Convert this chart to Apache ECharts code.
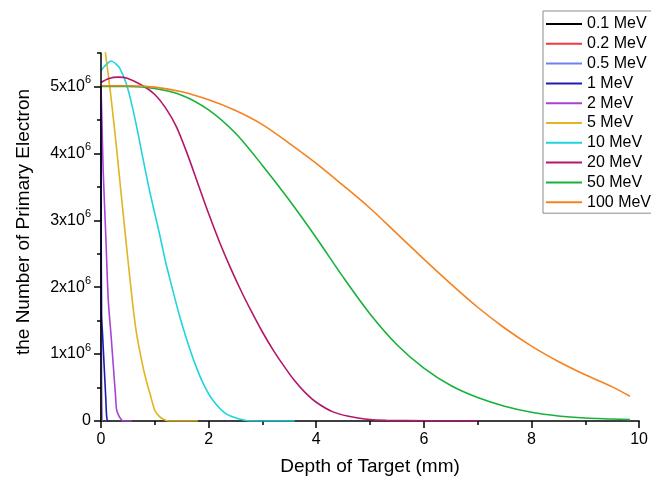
<!DOCTYPE html>
<html>
<head>
<meta charset="utf-8">
<script src="https://cdn.jsdelivr.net/npm/echarts@6/dist/echarts.min.js"></script>
<style>
  html, body { margin: 0; padding: 0; background: #fff; }
  #chart { width: 651px; height: 481px; }
</style>
</head>
<body>
<div id="chart"></div>
<script>
// Primary electron count versus target depth for several beam energies
const energies = ['0.1 MeV', '0.2 MeV', '0.5 MeV', '1 MeV', '2 MeV', '5 MeV', '10 MeV', '20 MeV', '50 MeV', '100 MeV'];
const lineColors = ['#000000', '#f03c3c', '#6f80f2', '#1c1cb4', '#a942d6', '#e2b41e', '#1fd5dd', '#b3176a', '#17b23a', '#f5821f'];

// depth in mm, count of primary electrons
const depth01 = [0, 0.002, 0.005];
const count01 = [5.0e6, 1.0e6, 0];
const depth02 = [0, 0.004, 0.01];
const count02 = [5.0e6, 1.5e6, 0];
const depth05 = [0, 0.004, 0.01, 0.02];
const count05 = [5.0e6, 2.5e6, 0.4e6, 0];
const depth1 = [0, 0.004, 0.01, 0.03, 0.06, 0.09, 0.105, 0.125, 0.17];
const count1 = [5.0e6, 3.0e6, 1.6e6, 1.28e6, 0.8e6, 0.32e6, 0.07e6, 0, 0];
const depth2 = [0, 0.02, 0.04, 0.09, 0.135, 0.185, 0.23, 0.27, 0.29, 0.33, 0.38, 0.42, 0.57];
const count2 = [5.0e6, 4.4e6, 3.75e6, 2.75e6, 1.81e6, 1.3e6, 0.81e6, 0.38e6, 0.17e6, 0.08e6, 0.02e6, 0, 0];
const depth5 = [0.05, 0.17, 0.26, 0.33, 0.45, 0.58, 0.66, 0.78, 0.86, 0.91, 0.96, 1.0, 1.07, 1.15, 1.26, 1.8];
const count5 = [5.7e6, 4.95e6, 4.3e6, 3.75e6, 2.8e6, 1.81e6, 1.31e6, 0.81e6, 0.55e6, 0.41e6, 0.26e6, 0.16e6, 0.08e6, 0.03e6, 0, 0];
const depth10 = [0, 0.1, 0.19, 0.27, 0.35, 0.47, 0.57, 0.69, 0.78, 0.9, 1.0, 1.1, 1.2, 1.3, 1.45, 1.6, 1.75, 1.9, 2.08, 2.32, 2.57, 2.8, 3.6];
const count10 = [5.24e6, 5.33e6, 5.38e6, 5.34e6, 5.27e6, 5.04e6, 4.74e6, 4.29e6, 3.92e6, 3.45e6, 3.1e6, 2.75e6, 2.38e6, 2.06e6, 1.6e6, 1.2e6, 0.85e6, 0.56e6, 0.31e6, 0.11e6, 0.03e6, 0, 0];
const depth20 = [0, 0.15, 0.32, 0.5, 0.8, 1.0, 1.2, 1.4, 1.6, 1.8, 2.0, 2.2, 2.4, 2.6, 2.8, 3.0, 3.2, 3.4, 3.6, 3.8, 4.0, 4.3, 4.6, 4.9, 5.3, 7.0];
const count20 = [5.06e6, 5.12e6, 5.14e6, 5.12e6, 5.0e6, 4.88e6, 4.68e6, 4.4e6, 4.0e6, 3.55e6, 3.1e6, 2.68e6, 2.3e6, 1.95e6, 1.63e6, 1.33e6, 1.06e6, 0.82e6, 0.6e6, 0.42e6, 0.28e6, 0.14e6, 0.07e6, 0.03e6, 0.01e6, 0];
const depth50 = [0, 0.5, 1.0, 1.5, 2.0, 2.5, 3.0, 3.5, 4.0, 4.5, 5.0, 5.5, 6.0, 6.5, 7.0, 7.5, 8.0, 8.5, 9.0, 9.5, 9.83];
const count50 = [5.0e6, 5.0e6, 4.97e6, 4.87e6, 4.65e6, 4.3e6, 3.82e6, 3.3e6, 2.74e6, 2.15e6, 1.6e6, 1.14e6, 0.79e6, 0.53e6, 0.35e6, 0.22e6, 0.13e6, 0.075e6, 0.045e6, 0.03e6, 0.02e6];
const depth100 = [0, 0.5, 1.0, 1.5, 2.0, 2.5, 3.0, 3.5, 4.0, 4.5, 5.0, 5.5, 6.0, 6.5, 7.0, 7.5, 8.0, 8.5, 9.0, 9.5, 9.83];
const count100 = [5.01e6, 5.01e6, 4.99e6, 4.92e6, 4.8e6, 4.64e6, 4.43e6, 4.15e6, 3.85e6, 3.52e6, 3.18e6, 2.8e6, 2.42e6, 2.05e6, 1.7e6, 1.39e6, 1.12e6, 0.89e6, 0.69e6, 0.51e6, 0.37e6];

const xTicks = [0, 2, 4, 6, 8, 10];
const yMajorTicks = [0, 1e6, 2e6, 3e6, 4e6, 5e6];

const depths = [depth01, depth02, depth05, depth1, depth2, depth5, depth10, depth20, depth50, depth100];
const counts = [count01, count02, count05, count1, count2, count5, count10, count20, count50, count100];

const FONT = 'Liberation Sans';

const series = energies.map((name, i) => ({
  name: name,
  type: 'line',
  data: depths[i].map((d, k) => [d, counts[i][k]]),
  showSymbol: false,
  symbol: 'none',
  smooth: 0.3,
  lineStyle: { width: 1.6, color: lineColors[i] },
  itemStyle: { color: lineColors[i] },
  z: 2
}));

function yLabel(v) {
  if (v === 0) return '0';
  if (v % 1e6 !== 0) return '';
  return '{m|' + (v / 1e6) + 'x10}{s|6}';
}

const chart = echarts.init(document.getElementById('chart'), null, { renderer: 'canvas' });
chart.setOption({
  animation: false,
  backgroundColor: '#ffffff',
  grid: { left: 101, right: 9, top: 53, bottom: 60, containLabel: false },
  xAxis: {
    type: 'value',
    min: 0,
    max: 10,
    interval: 2,
    name: 'Depth of Target (mm)',
    nameLocation: 'middle',
    nameGap: 36,
    nameTextStyle: { fontFamily: FONT, fontSize: 19, color: '#000' },
    axisLine: { show: true, onZero: false, lineStyle: { color: '#000', width: 1.5 } },
    axisTick: { show: true, inside: false, length: 7, lineStyle: { color: '#000', width: 1.5 } },
    minorTick: { show: true, splitNumber: 2, length: 4, lineStyle: { color: '#000', width: 1.5 } },
    axisLabel: {
      margin: 11,
      fontFamily: FONT,
      fontSize: 16,
      color: '#000',
      formatter: v => (xTicks.indexOf(v) >= 0 ? String(v) : '')
    },
    splitLine: { show: false },
    minorSplitLine: { show: false }
  },
  yAxis: [
    {
      type: 'value',
      min: 0,
      max: 5.5e6,
      interval: 0.5e6,
      z: 5,
      axisLine: { show: true, onZero: false, lineStyle: { color: '#000', width: 1.5 } },
      axisTick: { show: true, inside: false, length: 4, lineStyle: { color: '#000', width: 1.5 } },
      axisLabel: {
        margin: 10,
        fontFamily: FONT,
        fontSize: 16,
        color: '#000',
        formatter: yLabel,
        rich: {
          m: { fontFamily: FONT, fontSize: 16, color: '#000' },
          s: { fontFamily: FONT, fontSize: 11, color: '#000', padding: [0, 0, 12, 0] }
        }
      },
      splitLine: { show: false }
    },
    {
      type: 'value',
      min: 0,
      max: 5.5e6,
      position: 'left',
      offset: 0,
      z: 5,
      axisLine: { show: false },
      axisTick: {
        show: true,
        inside: false,
        length: 7,
        customValues: yMajorTicks,
        lineStyle: { color: '#000', width: 1.5 }
      },
      axisLabel: { show: false },
      splitLine: { show: false }
    }
  ],
  legend: {
    data: energies,
    orient: 'vertical',
    left: 543,
    top: 11,
    padding: [5, 24, 3, 3],
    itemWidth: 36,
    itemHeight: 2,
    itemGap: 3.8,
    icon: 'rect',
    borderColor: '#8c8c8c',
    borderWidth: 1,
    backgroundColor: '#ffffff',
    textStyle: { fontFamily: FONT, fontSize: 16, lineHeight: 16, color: '#000' }
  },
  graphic: [
    {
      type: 'text',
      x: 24,
      y: 222,
      rotation: Math.PI / 2,
      style: {
        text: 'the Number of Primary Electron',
        font: '19px "Liberation Sans"',
        fill: '#000',
        align: 'center',
        verticalAlign: 'middle'
      }
    }
  ],
  series: series
});
</script>
</body>
</html>
